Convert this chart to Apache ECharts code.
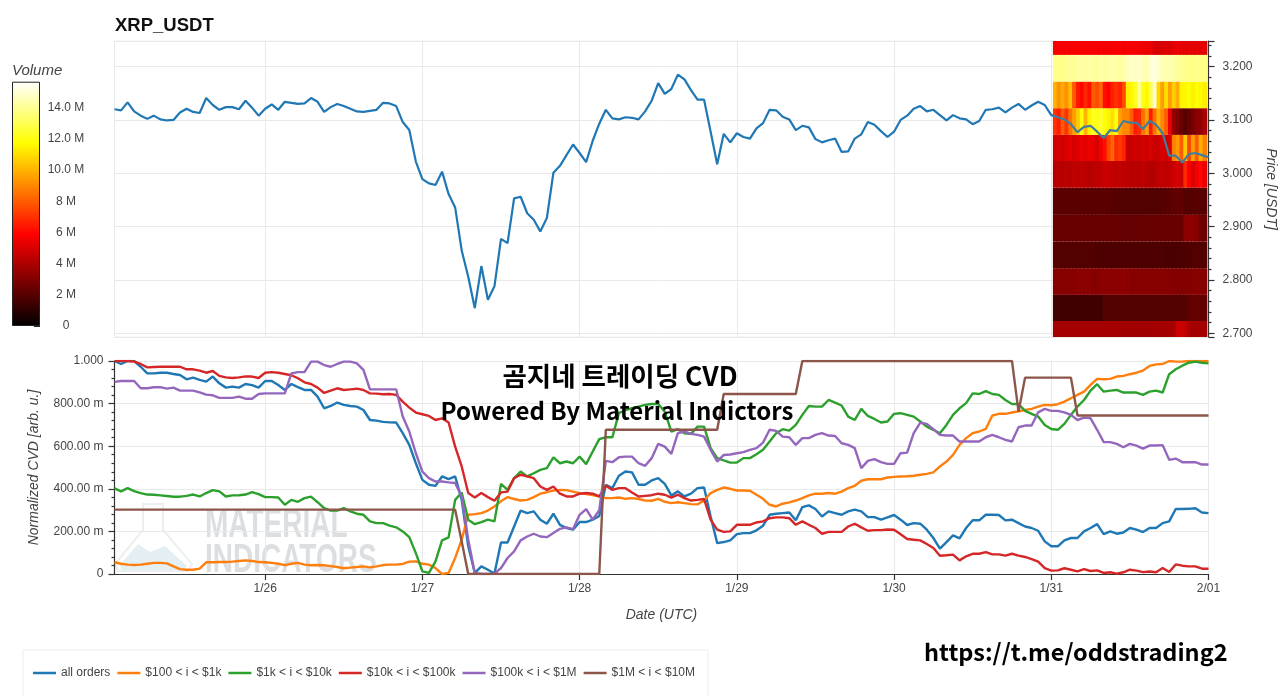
<!DOCTYPE html>
<html>
<head>
<meta charset="utf-8">
<title>XRP_USDT CVD</title>
<script src="https://cdn.jsdelivr.net/npm/echarts@6/dist/echarts.min.js"></script>
<style>
html, body { margin: 0; padding: 0; background: #fff; }
#chart { width: 1280px; height: 696px; }
</style>
</head>
<body>
<div id="chart"></div>
<script>
// hourly candles, 1/25 01:00 UTC to 2/01 00:00 UTC
const startTime = Date.UTC(2025, 0, 25, 1);
const endTime = Date.UTC(2025, 1, 1, 0);

const priceValues = [
  3.120,3.118,3.133,3.116,3.108,3.102,3.108,3.101,3.099,3.100,
  3.114,3.121,3.115,3.113,3.141,3.128,3.119,3.124,3.124,3.120,
  3.136,3.123,3.108,3.121,3.129,3.119,3.134,3.132,3.130,3.131,
  3.141,3.134,3.115,3.124,3.130,3.126,3.121,3.116,3.115,3.117,
  3.119,3.132,3.131,3.126,3.096,3.081,3.022,2.989,2.981,2.978,
  3.003,2.961,2.936,2.855,2.806,2.747,2.826,2.763,2.788,2.877,
  2.869,2.953,2.956,2.925,2.913,2.891,2.916,3.001,3.014,3.034,
  3.054,3.038,3.021,3.061,3.093,3.119,3.103,3.101,3.105,3.104,
  3.101,3.116,3.136,3.169,3.149,3.158,3.185,3.176,3.156,3.138,
  3.138,3.078,3.017,3.074,3.058,3.075,3.068,3.065,3.084,3.094,
  3.119,3.118,3.106,3.101,3.081,3.089,3.086,3.064,3.058,3.062,
  3.065,3.040,3.041,3.065,3.073,3.096,3.091,3.079,3.068,3.078,
  3.100,3.108,3.121,3.126,3.116,3.119,3.109,3.099,3.109,3.103,
  3.101,3.092,3.098,3.119,3.120,3.123,3.114,3.123,3.130,3.119,
  3.127,3.134,3.128,3.109,3.105,3.101,3.092,3.077,3.087,3.089,
  3.078,3.066,3.081,3.079,3.098,3.095,3.095,3.083,3.098,3.091,
  3.075,3.033,3.033,3.020,3.036,3.038,3.034,3.030
];

const allOrders = [
  1.000,.986,1.000,1.000,.973,.942,.942,.945,.945,.939,
  .934,.914,.922,.911,.903,.927,.895,.875,.880,.875,
  .892,.887,.875,.906,.906,.887,.864,.892,.877,.864,
  .864,.833,.778,.789,.805,.794,.789,.786,.770,.723,
  .720,.714,.712,.711,.661,.606,.520,.442,.419,.414,
  .458,.445,.458,.348,.130,.005,.036,.020,.002,.148,
  .148,.223,.298,.286,.294,.255,.236,.283,.231,.216,
  .208,.244,.244,.255,.273,.419,.403,.461,.481,.477,
  .419,.419,.439,.450,.423,.369,.388,.364,.377,.403,
  .406,.270,.145,.150,.158,.187,.192,.192,.205,.227,
  .278,.283,.286,.289,.252,.314,.322,.305,.270,.294,
  .286,.278,.294,.302,.294,.267,.267,.255,.266,.277,
  .255,.230,.239,.236,.208,.169,.119,.150,.181,.167,
  .216,.252,.252,.278,.278,.277,.252,.255,.239,.223,
  .216,.203,.153,.130,.130,.158,.169,.169,.200,.216,
  .234,.187,.200,.189,.195,.216,.208,.197,.216,.216,
  .239,.247,.305,.305,.306,.309,.289,.286
];

const orders100to1k = [
  .055,.048,.044,.042,.044,.048,.052,.052,.050,.036,
  .023,.020,.020,.025,.055,.055,.056,.056,.058,.061,
  .064,.061,.056,.055,.052,.048,.042,.048,.052,.044,
  .041,.042,.041,.037,.033,.027,.030,.033,.036,.031,
  .036,.042,.044,.044,.047,.058,.059,.048,.044,.028,
  .000,.005,.075,.161,.278,.281,.286,.298,.317,.341,
  .361,.352,.345,.348,.361,.377,.384,.392,.395,.394,
  .387,.380,.375,.370,.364,.356,.356,.359,.353,.356,
  .352,.345,.344,.353,.339,.333,.337,.333,.328,.327,
  .345,.380,.395,.406,.400,.392,.392,.391,.372,.353,
  .325,.317,.330,.336,.345,.356,.369,.377,.377,.380,
  .377,.387,.403,.414,.438,.445,.445,.445,.453,.456,
  .458,.459,.461,.466,.470,.477,.505,.528,.559,.606,
  .638,.661,.669,.681,.744,.752,.752,.758,.764,.770,
  .775,.786,.794,.792,.797,.809,.825,.841,.856,.888,
  .916,.914,.916,.927,.930,.938,.945,.955,.977,.984,
  .986,1.000,.997,.997,1.000,1.000,1.000,1.000
];

const orders1kto10k = [
  .402,.388,.403,.389,.380,.373,.372,.369,.366,.363,
  .363,.367,.373,.364,.380,.394,.388,.364,.369,.370,
  .373,.384,.375,.361,.361,.359,.325,.348,.339,.356,
  .363,.337,.309,.298,.298,.309,.294,.283,.278,.247,
  .239,.239,.227,.219,.200,.173,.098,.012,.005,.059,
  .158,.172,.348,.383,.255,.234,.244,.255,.247,.423,
  .395,.450,.481,.458,.473,.489,.497,.548,.520,.528,
  .520,.551,.516,.575,.633,.642,.642,.755,.770,.778,
  .786,.794,.798,.798,.762,.669,.680,.661,.658,.692,
  .692,.591,.544,.533,.523,.523,.544,.544,.562,.583,
  .622,.661,.680,.673,.700,.747,.789,.786,.786,.817,
  .805,.791,.739,.723,.775,.742,.728,.711,.716,.752,
  .755,.747,.739,.716,.692,.677,.661,.700,.747,.778,
  .802,.848,.845,.859,.845,.841,.817,.798,.798,.766,
  .752,.739,.700,.681,.677,.705,.747,.786,.817,.861,
  .891,.856,.861,.864,.852,.852,.852,.841,.856,.861,
  .852,.938,.961,.978,.992,.997,.992,.989
];

const orders10kto100k = [
  1.000,1.000,1.000,.997,.986,.970,.972,.973,.973,.973,
  .973,.961,.961,.955,.945,.953,.930,.923,.920,.923,
  .928,.927,.920,.945,.948,.945,.939,.933,.919,.900,
  .892,.875,.850,.861,.872,.864,.867,.870,.864,.848,
  .847,.844,.845,.841,.809,.781,.758,.750,.742,.723,
  .731,.711,.598,.505,.380,.359,.380,.361,.344,.383,
  .387,.450,.466,.458,.450,.411,.395,.411,.377,.364,
  .364,.377,.380,.377,.364,.414,.395,.403,.403,.383,
  .364,.367,.370,.377,.372,.359,.372,.356,.345,.348,
  .352,.255,.208,.198,.200,.231,.231,.231,.242,.247,
  .262,.266,.266,.262,.231,.247,.231,.216,.189,.198,
  .198,.198,.223,.236,.219,.203,.206,.206,.209,.208,
  .187,.164,.161,.158,.141,.122,.086,.088,.091,.064,
  .083,.095,.095,.103,.092,.092,.086,.095,.086,.080,
  .070,.058,.028,.016,.017,.027,.020,.012,.023,.014,
  .017,.005,.008,.002,.008,.020,.016,.009,.012,.008,
  .028,.009,.045,.039,.036,.036,.025,.025
];

const orders100kto1M = [
  .902,.906,.906,.906,.872,.872,.877,.877,.870,.875,
  .861,.861,.861,.853,.842,.839,.827,.827,.827,.833,
  .823,.823,.845,.848,.848,.848,.848,.942,.948,.948,
  .997,.997,.981,.973,.986,.997,.997,.989,.958,.867,
  .867,.867,.867,.867,.739,.669,.567,.481,.450,.434,
  .434,.430,.427,.364,.161,.005,.000,.000,.002,.028,
  .075,.106,.158,.176,.189,.176,.173,.192,.212,.219,
  .211,.278,.305,.255,.300,.531,.525,.548,.551,.551,
  .520,.508,.544,.611,.598,.564,.661,.669,.658,.653,
  .645,.583,.528,.559,.561,.567,.572,.583,.591,.617,
  .677,.672,.645,.642,.606,.638,.638,.653,.661,.650,
  .648,.614,.606,.591,.497,.531,.539,.525,.517,.517,
  .567,.570,.661,.711,.705,.680,.653,.650,.650,.622,
  .622,.622,.622,.642,.653,.642,.630,.622,.689,.697,
  .697,.759,.775,.766,.766,.759,.747,.723,.734,.731,
  .677,.619,.619,.611,.595,.611,.603,.589,.603,.603,
  .605,.536,.542,.525,.525,.525,.514,.514
];

const orders1Mto10M = [
  .302,.302,.302,.302,.302,.302,.302,.302,.302,.302,
  .302,.302,.302,.302,.302,.302,.302,.302,.302,.302,
  .302,.302,.302,.302,.302,.302,.302,.302,.302,.302,
  .302,.302,.302,.302,.302,.302,.302,.302,.302,.302,
  .302,.302,.302,.302,.302,.302,.302,.302,.302,.302,
  .302,.302,.302,.153,.000,.000,.000,.000,.000,.000,
  .000,.000,.000,.000,.000,.000,.000,.000,.000,.000,
  .000,.000,.000,.000,.000,.677,.677,.677,.677,.677,
  .677,.677,.677,.677,.677,.677,.677,.677,.677,.677,
  .677,.677,.677,.845,.845,.845,.845,.845,.845,.845,
  .845,.845,.845,.845,.845,1.000,1.000,1.000,1.000,1.000,
  1.000,1.000,1.000,1.000,1.000,1.000,1.000,1.000,1.000,1.000,
  1.000,1.000,1.000,1.000,1.000,1.000,1.000,1.000,1.000,1.000,
  1.000,1.000,1.000,1.000,1.000,1.000,1.000,1.000,.762,.922,
  .922,.922,.922,.922,.922,.922,.922,.744,.744,.744,
  .744,.744,.744,.744,.744,.744,.744,.744,.744,.744,
  .744,.744,.744,.744,.744,.744,.744,.744
];

const seriesNames = ['all orders', '$100 < i < $1k', '$1k < i < $10k', '$10k < i < $100k', '$100k < i < $1M', '$1M < i < $10M'];
const seriesValues = [allOrders, orders100to1k, orders1kto10k, orders10kto100k, orders100kto1M, orders1Mto10M];
const seriesColors = ['#1f77b4', '#ff7f0e', '#2ca02c', '#d62728', '#9467bd', '#8c564b'];

// order book volume (millions), one list per price bin, bottom bin first
const heatFrom = Date.UTC(2025, 0, 31, 0, 15);
const heatTo = Date.UTC(2025, 0, 31, 23, 40);
const heatEdges = [2.693, 2.723, 2.772, 2.822, 2.872, 2.922, 2.973, 3.023, 3.072, 3.122, 3.172, 3.222, 3.248];

const heat2700 = [3.8,3.8,3.8,3.8,3.8,3.8,3.8,3.8,3.8,3.8,3.8,3.8,3.8,3.8,3.8,3.8,3.8,3.8,3.7,3.7,3.7,3.7,3.7,3.7,3.7,3.7,3.8,3.8,3.8,3.8,3.8,3.9,4.6,4.7,4.5,3.9,3.8,3.8,3.8,3.8];
const heat2750 = [1.5,1.5,1.5,1.5,1.5,1.5,1.5,1.5,1.5,1.5,1.5,1.5,1.5,1.9,1.9,1.9,1.9,1.9,1.9,1.9,1.9,1.9,1.9,1.9,1.9,1.9,1.9,1.9,1.9,1.9,1.9,1.9,1.9,1.9,1.9,2.2,2.3,2.3,2.3,2.3];
const heat2800 = [3.1,3.1,3.1,3.1,3.1,3.1,3.2,3.2,3.2,3.2,3.1,3.1,3.2,3.2,3.2,3.2,3.2,3.2,3.3,3.2,3.1,3.1,3.1,3.1,3.1,3.1,3.1,3.1,3.1,3.1,3.1,3.0,3.0,3.0,3.0,3.1,3.1,3.1,3.1,3.1];
const heat2850 = [1.9,1.9,1.9,1.9,1.9,1.9,1.9,1.9,1.9,1.9,1.9,1.8,1.8,1.8,1.8,1.8,1.8,1.8,1.8,1.8,1.8,1.8,1.8,1.8,1.8,1.8,1.8,1.8,1.8,1.7,1.7,1.7,1.7,1.8,1.8,1.8,1.9,1.9,1.9,1.9];
const heat2900 = [2.4,2.4,2.4,2.4,2.4,2.4,2.4,2.4,2.4,2.4,2.4,2.4,2.4,2.4,2.4,2.4,2.4,2.3,2.3,2.3,2.3,2.3,2.3,2.3,2.4,2.4,2.4,2.4,2.4,2.4,2.4,2.4,2.4,2.4,3.2,3.3,3.2,3.1,2.6,2.5];
const heat2950 = [2.1,2.1,2.1,2.1,2.1,2.1,2.1,2.1,2.1,2.1,2.1,2.1,2.1,2.1,2.1,2.0,2.0,2.0,1.9,1.9,1.9,1.9,1.9,1.9,1.9,1.9,1.9,1.9,2.0,2.0,2.1,2.2,2.2,2.2,1.9,1.9,2.0,2.0,2.0,2.0];
const heat3000 = [4.2,4.3,4.2,4.3,4.2,4.4,4.3,4.4,4.3,4.2,4.3,4.4,4.5,4.7,4.6,4.5,4.4,4.5,4.4,4.3,4.2,4.3,4.2,4.4,4.2,4.1,4.2,4.4,4.5,4.4,4.5,4.7,4.9,4.6,6.8,5.8,5.0,5.6,6.0,5.4];
const heat3050 = [4.7,4.9,4.8,5.0,5.2,4.9,5.1,5.4,5.2,5.5,5.3,5.0,5.6,6.2,7.4,8.2,6.8,7.2,6.6,4.6,4.7,4.8,4.6,4.9,4.7,5.0,4.6,4.7,5.0,4.8,5.0,8.8,9.4,8.0,10.5,7.5,9.6,8.0,10.0,8.8];
const heat3100 = [7.0,6.5,8.0,7.0,8.5,9.5,10.5,11.8,10.0,11.5,12.2,12.0,12.5,11.8,11.5,11.0,12.0,9.5,9.0,9.0,8.0,6.5,6.8,8.5,9.5,6.5,8.5,10.0,9.0,8.0,5.5,3.4,3.0,2.4,2.0,2.4,2.8,3.2,3.3,4.0];
const heat3150 = [10.0,9.2,9.8,9.2,10.2,7.9,6.4,6.0,6.8,6.2,8.0,7.6,8.2,6.2,5.9,6.6,7.0,6.6,7.6,11.4,11.6,12.2,14.0,12.0,11.6,13.0,15.0,10.8,9.5,11.0,9.5,10.6,9.8,11.5,11.6,11.8,11.4,11.8,11.6,11.3];
const heat3200 = [13.9,13.8,13.8,14.0,14.1,14.0,14.2,14.3,14.2,14.3,14.2,14.1,14.3,14.2,14.3,14.4,14.3,14.2,14.4,14.6,14.9,14.7,14.8,14.6,14.4,15.0,15.2,14.9,14.5,14.4,14.5,14.3,14.1,14.0,13.9,13.8,13.8,13.9,13.8,13.8];
const heat3250 = [5.6,5.7,5.7,5.7,5.6,5.7,5.7,5.7,5.7,5.7,5.7,5.6,5.7,5.6,5.7,5.7,5.7,5.7,5.6,5.7,5.6,5.7,5.6,5.5,5.4,5.5,5.0,4.9,5.0,5.1,5.0,5.3,5.4,5.3,5.2,5.3,5.2,5.3,5.2,5.3];
const heatRows = [heat2700, heat2750, heat2800, heat2850, heat2900, heat2950, heat3000, heat3050, heat3100, heat3150, heat3200, heat3250];

const volumeMax = 15.66;
const hotColors = ['#000000', '#550000', '#aa0000', '#ff0000', '#ff5500', '#ffaa00', '#ffff00', '#ffff80', '#ffffff'];

const labelFont = 'Liberation Sans, Arial, sans-serif';
const cjkFont = '"Noto Sans CJK KR", "Noto Sans", sans-serif';

const hourMs = 3600000;
const toSeries = values => values.map((v, i) => [startTime + i * hourMs, v]);

const heatData = [];
heatRows.forEach((row, r) => {
    const colMs = (heatTo - heatFrom) / row.length;
    row.forEach((vol, c) => {
        heatData.push([heatFrom + c * colMs, heatFrom + (c + 1) * colMs, heatEdges[r], heatEdges[r + 1], vol]);
    });
});

function renderHeat(params, api) {
    const p0 = api.coord([api.value(0), api.value(3)]);
    const p1 = api.coord([api.value(1), api.value(2)]);
    // 1px overlap so no seam shows between neighbouring columns
    return {
        type: 'rect',
        shape: { x: p0[0], y: p0[1], width: p1[0] - p0[0] + 1, height: p1[1] - p0[1] },
        style: { fill: api.visual('color') }
    };
}

function dayLabel(value) {
    const d = new Date(value);
    if (d.getUTCHours() !== 0) return '';
    return `${d.getUTCMonth() + 1}/${String(d.getUTCDate()).padStart(2, '0')}`;
}

function cvdLabel(value) {
    if (value === 0) return '0';
    if (value === 1) return '1.000';
    return `${(value * 1000).toFixed(2)} m`;
}

function volumeLabel(value) {
    if (value === 0) return '0';
    const m = value / 1e6;
    return m >= 10 ? `${m.toFixed(1)} M` : `${m} M`;
}

const gridLine = { color: '#e9e9e9', width: 1 };
const axisInk = { color: '#333', width: 1.2 };
const nameStyle = { fontFamily: labelFont, fontStyle: 'italic', fontSize: 14, color: '#444' };
const tickStyle = { fontFamily: labelFont, fontSize: 12, color: '#444' };

const myChart = echarts.init(document.getElementById('chart'));
const option = {
    animation: false,
    useUTC: true,
    backgroundColor: '#fff',
    grid: [
        { left: 114.5, width: 1094, top: 41, height: 296, show: true, borderColor: '#eeeeee', borderWidth: 1, outerBoundsMode: 'none' },
        { left: 114.5, width: 1094, top: 361, height: 213, outerBoundsMode: 'none' },
        { left: 12, width: 28, top: 81.7, height: 244.3, outerBoundsMode: 'none' }
    ],
    xAxis: [
        {
            type: 'time', gridIndex: 0, min: startTime, max: endTime, splitNumber: 7,
            axisLine: { show: false }, axisTick: { show: false }, axisLabel: { show: false },
            splitLine: { show: true, lineStyle: gridLine }
        },
        {
            type: 'time', gridIndex: 1, min: startTime, max: endTime, splitNumber: 7,
            name: 'Date (UTC)', nameLocation: 'middle', nameGap: 34, nameTextStyle: nameStyle,
            axisLine: { lineStyle: axisInk },
            axisTick: { length: 6, lineStyle: axisInk },
            axisLabel: { formatter: dayLabel, margin: 9, hideOverlap: false, showMaxLabel: true, ...tickStyle },
            splitLine: { show: true, lineStyle: gridLine }
        },
        {
            type: 'category', gridIndex: 2, data: ['Volume'],
            axisLine: { show: false }, axisTick: { show: false }, axisLabel: { show: false }
        }
    ],
    yAxis: [
        {
            type: 'value', gridIndex: 0, position: 'right', min: 2.693, max: 3.248, scale: true,
            name: 'Price [USDT]', nameLocation: 'middle', nameRotate: -90, nameGap: 54, nameTextStyle: nameStyle,
            axisLine: { show: true, lineStyle: axisInk },
            axisTick: { show: true, length: 6, lineStyle: axisInk },
            minorTick: { show: true, splitNumber: 5, length: 3, lineStyle: axisInk },
            axisLabel: { formatter: v => v.toFixed(3), showMinLabel: false, showMaxLabel: false, margin: 14, ...tickStyle },
            splitLine: { show: true, lineStyle: gridLine }
        },
        {
            type: 'value', gridIndex: 1, min: 0, max: 1, interval: 0.2,
            name: 'Normalized CVD [arb. u.]', nameLocation: 'middle', nameRotate: 90, nameGap: 73, nameTextStyle: nameStyle,
            axisLine: { show: true, lineStyle: axisInk },
            axisTick: { show: true, length: 6, lineStyle: axisInk },
            minorTick: { show: true, splitNumber: 5, length: 3, lineStyle: axisInk },
            axisLabel: { formatter: cvdLabel, margin: 11, ...tickStyle },
            splitLine: { show: true, lineStyle: gridLine }
        },
        {
            type: 'value', gridIndex: 2, position: 'right', min: 0, max: volumeMax * 1e6, interval: 2e6,
            axisLine: { show: false },
            axisTick: { show: true, inside: true, length: 6, lineStyle: { color: '#222', width: 1 } },
            axisLabel: { formatter: volumeLabel, align: 'center', margin: 26, showMaxLabel: false, ...tickStyle },
            splitLine: { show: false }
        }
    ],
    visualMap: {
        show: false, seriesIndex: 0, dimension: 4, min: 0, max: volumeMax,
        inRange: { color: hotColors }
    },
    legend: {
        left: 28, top: 662, icon: 'rect', itemWidth: 23, itemHeight: 2.5, itemGap: 7,
        data: seriesNames,
        textStyle: { fontFamily: labelFont, fontSize: 12, color: '#444' }
    },
    series: [
        {
            type: 'custom', name: 'volume', xAxisIndex: 0, yAxisIndex: 0, z: 2,
            renderItem: renderHeat, data: heatData, encode: { x: [0, 1], y: [2, 3] }
        },
        {
            type: 'line', name: 'price', xAxisIndex: 0, yAxisIndex: 0, z: 3, symbol: 'none',
            data: toSeries(priceValues),
            lineStyle: {
                width: 2.2,
                color: new echarts.graphic.LinearGradient(0, 0, 1, 0, [
                    { offset: 0, color: '#1f77b4' }, { offset: 0.857, color: '#1f77b4' },
                    { offset: 0.857, color: '#437d9e' }, { offset: 1, color: '#437d9e' }
                ])
            }
        },
        ...seriesNames.map((name, i) => ({
            type: 'line', name, xAxisIndex: 1, yAxisIndex: 1, z: 3 + i, symbol: 'none',
            data: toSeries(seriesValues[i]),
            itemStyle: { color: seriesColors[i] },
            lineStyle: { width: 2.4, color: seriesColors[i] }
        })),
        {
            type: 'bar', name: 'colorbar', xAxisIndex: 2, yAxisIndex: 2, barWidth: '100%', z: 1,
            data: [volumeMax * 1e6],
            itemStyle: {
                borderColor: '#222', borderWidth: 1,
                color: new echarts.graphic.LinearGradient(0, 1, 0, 0, hotColors.map((color, i) => ({ offset: i / (hotColors.length - 1), color })))
            }
        }
    ],
    graphic: [
        { type: 'text', left: 115, top: 16, style: { text: 'XRP_USDT', font: `bold 18.5px ${labelFont}`, fill: '#111' } },
        { type: 'text', left: 12, top: 63, style: { text: 'Volume', font: `italic 15px ${labelFont}`, fill: '#444' } },
        { type: 'rect', z: 0, shape: { x: 23, y: 650, width: 685, height: 50 }, style: { fill: '#fff', stroke: '#eeeeee', lineWidth: 1 } },
        // watermark
        { type: 'polygon', z: 0, shape: { points: [[143, 504], [163, 504], [163, 530], [192, 564], [188, 571], [118, 571], [115, 564], [143, 530]] }, style: { fill: 'none', stroke: '#eceef0', lineWidth: 2 } },
        { type: 'polygon', z: 0, shape: { points: [[120, 565], [138, 544], [150, 552], [165, 546], [187, 566], [184, 570], [121, 570]] }, style: { fill: '#e4eff3' } },
        { type: 'text', z: 0, x: 205, y: 506, scaleX: 0.7, style: { text: 'MATERIAL', font: `bold 40px ${labelFont}`, fill: '#dcdfe2' } },
        { type: 'text', z: 0, x: 205, y: 541, scaleX: 0.7, style: { text: 'INDICATORS', font: `bold 40px ${labelFont}`, fill: '#dcdfe2' } },
        // overlay captions
        { type: 'text', z: 20, x: 620, y: 376, style: { text: '곰지네 트레이딩 CVD', font: `bold 26.5px ${cjkFont}`, fill: '#000', align: 'center', verticalAlign: 'middle' } },
        { type: 'text', z: 20, x: 617, y: 411, style: { text: 'Powered By Material Indictors', font: `bold 24px ${cjkFont}`, fill: '#000', align: 'center', verticalAlign: 'middle' } },
        { type: 'text', z: 20, x: 924, y: 652, style: { text: 'https://t.me/oddstrading2', font: `bold 23.5px ${cjkFont}`, fill: '#000', verticalAlign: 'middle' } }
    ]
};

myChart.setOption(option);
</script>
</body>
</html>
